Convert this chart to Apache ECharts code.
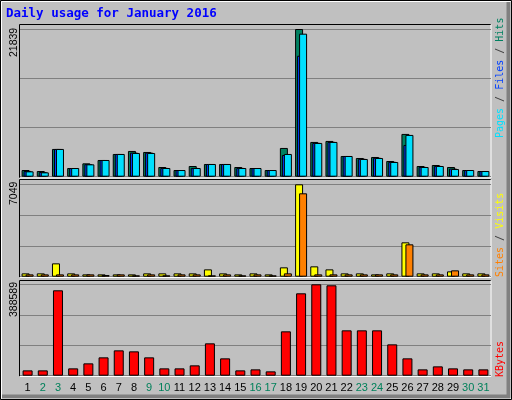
<!DOCTYPE html>
<html><head><meta charset="utf-8">
<script src="https://cdn.jsdelivr.net/npm/echarts@6/dist/echarts.min.js"></script>
<style>html,body{margin:0;padding:0;background:#c0c0c0}#c{width:512px;height:400px}</style>
</head><body><div id="c"></div>
<script>
const days = ['1','2','3','4','5','6','7','8','9','10','11','12','13','14','15','16','17','18','19','20','21','22','23','24','25','26','27','28','29','30','31'];
const weekend = ['2','3','9','10','16','17','23','24','30','31'];
const hits  = [988,840,4101,1285,1976,2471,3360,3805,3656,1433,988,1581,1878,1878,1433,1285,988,4249,21839,5139,5287,3063,2767,2915,2322,6324,1581,1729,1433,988,840];
const files = [850,700,4101,1285,1850,2471,3360,3560,3560,1300,988,1300,1878,1878,1300,1285,988,3212,17886,5000,5150,3063,2650,2800,2200,4694,1450,1600,1200,988,840];
const pages = [791,642,4101,1285,1828,2471,3360,3508,3508,1285,988,1285,1878,1878,1285,1285,988,3360,21147,4990,5139,3063,2619,2767,2174,6176,1433,1581,1136,988,840];
const visits = [254,254,1018,254,178,178,178,178,254,254,254,254,560,254,178,254,178,713,7049,789,560,254,254,178,254,2621,254,254,407,254,254];
const sites  = [178,178,178,178,178,127,178,102,178,102,178,178,102,178,102,178,102,254,6362,178,178,178,178,178,178,2469,178,178,484,178,178];
const kbytes = [22691,22691,363059,31200,52473,78001,107783,103529,78001,31200,31200,43964,137565,73746,22691,26946,18437,188621,350295,388589,384332,192875,192875,192875,133311,73746,26946,39710,31200,26946,26946];
const maxTop = 21839, maxMid = 7049, maxBot = 388589;

const grids = [
  {left:20, right:21, top:29, height:147.7},
  {left:20, right:21, top:184.3, height:92.4},
  {left:20, right:21, top:284.3, height:91.4}
];
const maxes=[maxTop,maxMid,maxBot];
const xAxes = grids.map((g,i)=>({type:'category',gridIndex:i,data:days,
  axisLine:{show:false},axisTick:{show:false},
  axisLabel:{show:i===2,margin:7,fontFamily:'Liberation Sans',fontSize:11,interval:0,
    color:(v)=>weekend.includes(v)?'#00805a':'#000'}}));
const yAxes = grids.map((g,i)=>({type:'value',gridIndex:i,min:0,max:maxes[i],interval:maxes[i]/3,
  axisLabel:{show:false},axisLine:{show:false},axisTick:{show:false},
  splitLine:{show:true,lineStyle:{color:'#808080',width:1}}}));
const bs={borderColor:'#000',borderWidth:1};
function bar(name,data,color,gi,w,gap){return {name,type:'bar',xAxisIndex:gi,yAxisIndex:gi,data,barWidth:w,barGap:gap,itemStyle:Object.assign({color},bs),animation:false};}
const series=[
  bar('Hits',hits,'#008060',0,8,'-75%'),
  bar('Files',files,'#0040ff',0,8,'-75%'),
  bar('Pages',pages,'#00e0ff',0,8,'-75%'),
  bar('Visits',visits,'#ffff00',1,8,'-50%'),
  bar('Sites',sites,'#ff8000',1,8,'-50%'),
  bar('KBytes',kbytes,'#ff0000',2,10,'0%')
];
function frame(x,y,w,h){return [
  {type:'line',shape:{x1:x,y1:y,x2:x+w,y2:y},style:{stroke:'#000',lineWidth:1}},
  {type:'line',shape:{x1:x,y1:y,x2:x,y2:y+h},style:{stroke:'#000',lineWidth:1}},
  {type:'line',shape:{x1:x,y1:y+h,x2:x+w,y2:y+h},style:{stroke:'#fff',lineWidth:1}},
  {type:'line',shape:{x1:x+w,y1:y,x2:x+w,y2:y+h},style:{stroke:'#fff',lineWidth:1}}];}
function vtext(x,y,rich,textStr){return {type:'text',x,y,rotation:Math.PI/2,
  style:{text:textStr,rich,fontFamily:'DejaVu Sans Mono',fontSize:10,align:'left',verticalAlign:'middle'}};}
const graphic=[
  {type:'rect',shape:{x:0.5,y:0.5,width:511,height:399},style:{fill:'none',stroke:'#000',lineWidth:1}},
  {type:'rect',shape:{x:1.5,y:1.5,width:509,height:397},style:{fill:'none',stroke:'#fff',lineWidth:1}},
  {type:'rect',shape:{x:506.5,y:2,width:4,height:396},style:{fill:'#808080'}},
  {type:'rect',shape:{x:2,y:394.5,width:508,height:4},style:{fill:'#808080'}},
  ...frame(19.5,24.5,471.5,153.5),
  ...frame(19.5,179.5,471.5,98),
  ...frame(19.5,280.5,471.5,96),
  {type:'text',x:6,y:14,style:{text:'Daily usage for January 2016',fontFamily:'DejaVu Sans Mono',fontWeight:'bold',fontSize:12.5,fill:'#0000ff',verticalAlign:'middle'}},
  {type:'text',x:14,y:57,rotation:Math.PI/2,style:{text:String(maxTop),fontFamily:'Liberation Sans',fontSize:10.5,fill:'#000',verticalAlign:'middle'}},
  {type:'text',x:14,y:205,rotation:Math.PI/2,style:{text:String(maxMid),fontFamily:'Liberation Sans',fontSize:10.5,fill:'#000',verticalAlign:'middle'}},
  {type:'text',x:14,y:317,rotation:Math.PI/2,style:{text:String(maxBot),fontFamily:'Liberation Sans',fontSize:10.5,fill:'#000',verticalAlign:'middle'}},
  vtext(500,138,{p:{fill:'#00e0ff'},f:{fill:'#0040ff'},h:{fill:'#008060'},k:{fill:'#404040'}},'{p|Pages}{k| / }{f|Files}{k| / }{h|Hits}'),
  vtext(500,277,{s:{fill:'#ff8000'},v:{fill:'#ffff00'},k:{fill:'#404040'}},'{s|Sites}{k| / }{v|Visits}'),
  vtext(500,377,{r:{fill:'#ff0000'}},'{r|KBytes}')
];
const chart=echarts.init(document.getElementById('c'));
chart.setOption({backgroundColor:'#c0c0c0',animation:false,grid:grids,xAxis:xAxes,yAxis:yAxes,series,graphic});
</script></body></html>
